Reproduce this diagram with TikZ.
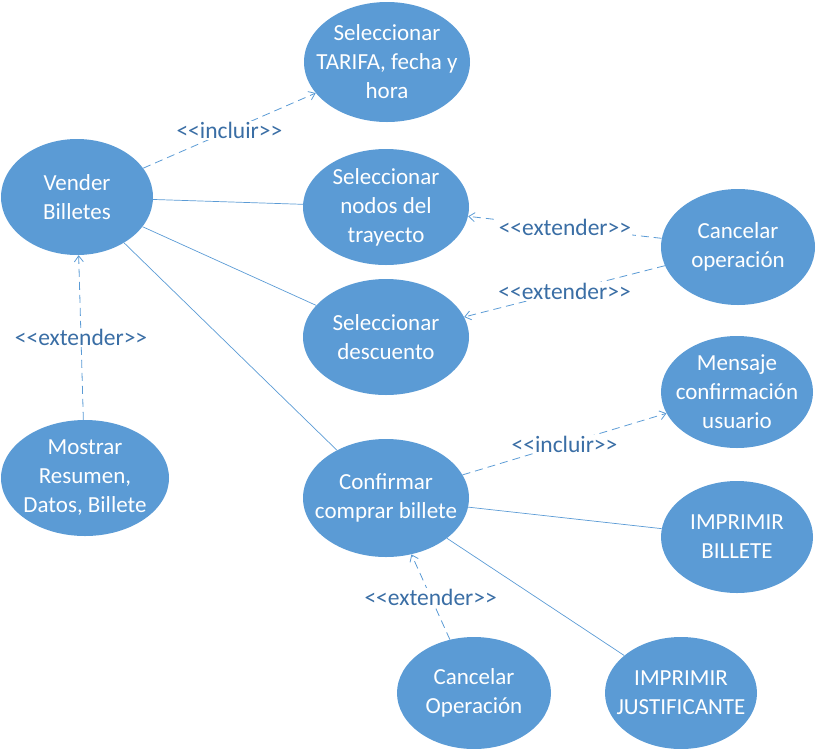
\documentclass[tikz,border=0pt]{standalone}
\usepackage{fontspec}
\setmainfont{Carlito}
\usetikzlibrary{shapes.geometric,arrows.meta}
\definecolor{casofill}{HTML}{5B9BD5}
\definecolor{etiqueta}{HTML}{3A6EA5}
\tikzset{
  caso/.style={ellipse,fill=casofill,text=white,align=center,inner sep=-18pt,
    font=\fontsize{23}{29}\selectfont},
  asoc/.style={draw=casofill,line width=0.7pt},
  dep/.style={draw=casofill,line width=0.8pt,dash pattern=on 8pt off 5pt,
    -{Straight Barb[length=6pt,width=9pt,line width=0.8pt]}},
  estereo/.style={fill=white,text=etiqueta,inner sep=1pt,
    font=\fontsize{23.5}{26}\selectfont}
}
\begin{document}
\begin{tikzpicture}[x=1pt,y=-1pt]
  \useasboundingbox (0,0) rectangle (820,748);
  % casos de uso
  \node[caso,minimum width=166pt,minimum height=120pt] (tarifa) at (387,62) {Seleccionar\\TARIFA, fecha y\\hora};
  \node[caso,minimum width=152pt,minimum height=116pt] (vender) at (77,197) {Vender\\Billetes};
  \node[caso,minimum width=166pt,minimum height=116pt] (nodos) at (386,207) {Seleccionar\\nodos del\\trayecto};
  \node[caso,minimum width=154pt,minimum height=116pt] (cancelar) at (738,247) {Cancelar\\operación};
  \node[caso,minimum width=166pt,minimum height=116pt] (descuento) at (386,337) {Seleccionar\\descuento};
  \node[caso,minimum width=152pt,minimum height=112pt] (mensaje) at (737,392) {Mensaje\\confirmación\\usuario};
  \node[caso,minimum width=168pt,minimum height=116pt] (resumen) at (85,478) {Mostrar\\Resumen,\\Datos, Billete};
  \node[caso,minimum width=166pt,minimum height=118pt] (confirmar) at (386,498) {Confirmar\\comprar billete};
  \node[caso,minimum width=152pt,minimum height=112pt] (billete) at (737,537) {IMPRIMIR\\BILLETE};
  \node[caso,minimum width=154pt,minimum height=112pt] (cancelarop) at (474,693) {Cancelar\\Operación};
  \node[caso,minimum width=152pt,minimum height=112pt] (justif) at (681,693) {IMPRIMIR\\JUSTIFICANTE};
  % asociaciones
  \draw[asoc] (vender) -- (nodos);
  \draw[asoc] (vender) -- (descuento);
  \draw[asoc] (vender) -- (confirmar);
  \draw[asoc] (confirmar) -- (billete);
  \draw[asoc] (confirmar) -- (justif);
  % dependencias
  \draw[dep] (vender) -- node[estereo]{<{}<incluir>{}>} (tarifa);
  \draw[dep] (cancelar) -- node[estereo]{<{}<extender>{}>} (nodos);
  \draw[dep] (cancelar) -- node[estereo]{<{}<extender>{}>} (descuento);
  \draw[dep] (resumen) -- node[estereo]{<{}<extender>{}>} (vender);
  \draw[dep] (confirmar) -- node[estereo]{<{}<incluir>{}>} (mensaje);
  \draw[dep] (cancelarop) -- node[estereo]{<{}<extender>{}>} (confirmar);
\end{tikzpicture}
\end{document}
